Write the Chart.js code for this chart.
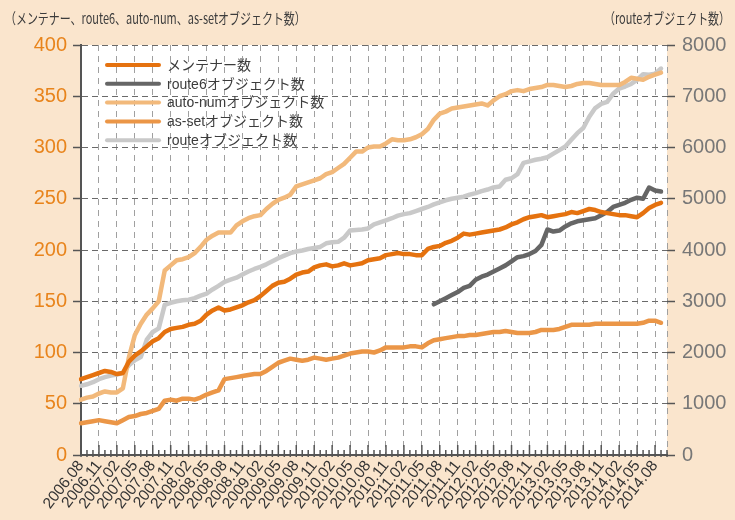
<!DOCTYPE html>
<html>
<head>
<meta charset="utf-8">
<script src="https://cdn.jsdelivr.net/npm/chart.js@4"></script>
<style>
  html, body { margin: 0; padding: 0; background: #fae5cd; }
  #wrap { width: 735px; height: 520px; }
</style>
</head>
<body>
<div id="wrap"><canvas id="chart" width="735" height="520"></canvas></div>
<script>
const months = [
  '2006.08','2006.09','2006.10','2006.11','2006.12',
  '2007.01','2007.02','2007.03','2007.04','2007.05','2007.06','2007.07','2007.08','2007.09','2007.10','2007.11','2007.12',
  '2008.01','2008.02','2008.03','2008.04','2008.05','2008.06','2008.07','2008.08','2008.09','2008.10','2008.11','2008.12',
  '2009.01','2009.02','2009.03','2009.04','2009.05','2009.06','2009.07','2009.08','2009.09','2009.10','2009.11','2009.12',
  '2010.01','2010.02','2010.03','2010.04','2010.05','2010.06','2010.07','2010.08','2010.09','2010.10','2010.11','2010.12',
  '2011.01','2011.02','2011.03','2011.04','2011.05','2011.06','2011.07','2011.08','2011.09','2011.10','2011.11','2011.12',
  '2012.01','2012.02','2012.03','2012.04','2012.05','2012.06','2012.07','2012.08','2012.09','2012.10','2012.11','2012.12',
  '2013.01','2013.02','2013.03','2013.04','2013.05','2013.06','2013.07','2013.08','2013.09','2013.10','2013.11','2013.12',
  '2014.01','2014.02','2014.03','2014.04','2014.05','2014.06','2014.07','2014.08','2014.09','2014.10'
];

// left axis series
const maintainers = [
  74,76,78,80,82,81,79,80,91,97,
  101,106,111,114,120,123,124,125,127,128,
  131,137,141,144,141,142,144,146,149,151,
  155,160,165,168,169,172,176,178,179,183,
  185,186,184,185,187,185,186,187,190,191,
  192,195,196,197,196,196,195,195,201,203,
  204,207,209,212,216,215,216,217,218,219,
  220,222,225,227,230,232,233,234,232,233,
  234,235,237,236,238,240,239,237,236,235,
  234,234,233,232,236,241,244,246
];

// route6 starts at 2011.07
const route6 = Array(59).fill(null).concat([
  147,150,153,156,159,163,165,171,174,176,
  179,182,185,189,193,194,196,199,205,220,
  218,219,223,226,228,229,230,231,234,237,
  242,244,246,249,251,250,261,258,257
]);

const autoNum = [
  54,56,57,60,62,61,61,65,95,117,
  128,137,143,150,180,185,190,191,193,197,
  203,210,214,217,217,217,224,228,231,233,
  234,240,245,249,251,254,262,264,266,268,
  270,274,276,280,284,290,296,296,300,301,
  301,304,308,307,307,308,310,313,318,327,
  333,335,338,339,340,341,342,343,341,346,
  350,352,355,356,355,357,358,359,361,361,
  360,359,360,362,363,363,362,361,361,361,
  361,364,368,367,366,369,371,373
];

const asSet = [
  31,32,33,34,33,32,31,34,37,38,
  40,41,43,45,53,54,53,55,55,54,
  56,59,61,63,74,75,76,77,78,79,
  79,82,86,90,92,94,93,92,93,95,
  94,93,94,95,97,99,100,101,101,100,
  102,105,105,105,105,106,106,105,109,112,
  113,114,115,116,116,117,117,118,119,120,
  120,121,120,119,119,119,120,122,122,122,
  123,125,127,127,127,127,128,128,128,128,
  128,128,128,128,129,131,131,129
];

// right axis series
const routeObj = [
  1350,1380,1420,1480,1520,1550,1570,1600,1750,1850,
  1910,2250,2400,2470,2930,2970,3000,3020,3030,3060,
  3110,3150,3230,3300,3380,3420,3460,3520,3580,3630,
  3670,3720,3780,3840,3890,3940,3970,3990,4020,4040,
  4060,4130,4150,4160,4240,4380,4390,4400,4420,4500,
  4540,4580,4620,4670,4700,4720,4760,4800,4840,4890,
  4930,4970,5000,5020,5040,5080,5110,5150,5180,5220,
  5240,5370,5400,5480,5700,5730,5760,5780,5810,5880,
  5950,6020,6150,6280,6380,6600,6770,6850,6890,7050,
  7150,7190,7240,7320,7430,7420,7440,7540
];

const leftTitle = '（メンテナー、route6、auto-num、as-setオブジェクト数）';
const rightTitle = '（routeオブジェクト数）';

const cream = '#fae5cd';

const bgPlugin = {
  id: 'bg',
  beforeDraw(chart) {
    const { ctx, chartArea: a } = chart;
    ctx.save();
    ctx.fillStyle = cream;
    ctx.fillRect(0, 0, chart.width, chart.height);
    ctx.fillStyle = '#ffffff';
    ctx.fillRect(a.left, a.top, a.right - a.left, a.bottom - a.top);
    ctx.restore();
  }
};

// monthly minor ticks on the bottom axis
const monthTicks = {
  id: 'monthTicks',
  afterDatasetsDraw(chart) {
    const { ctx, chartArea: a, scales: { x } } = chart;
    ctx.save();
    ctx.strokeStyle = '#555';
    ctx.lineWidth = 1.5;
    for (let i = 0; i < months.length; i++) {
      const px = x.getPixelForValue(i);
      const len = i % 3 === 0 ? 10 : 5;
      ctx.beginPath();
      ctx.moveTo(px, a.bottom + 2);
      ctx.lineTo(px, a.bottom - len);
      ctx.stroke();
    }
    ctx.restore();
  }
};

const labelsPlugin = {
  id: 'labels',
  afterDraw(chart) {
    const ctx = chart.ctx;
    ctx.save();
    ctx.fillStyle = '#3c3c3c';
    ctx.textBaseline = 'middle';
    ctx.font = '15px "Noto Sans CJK JP"';
    // condensed header text
    ctx.save();
    ctx.translate(5, 18);
    ctx.scale(0.73, 1);
    ctx.fillText(leftTitle, 0, 0);
    ctx.restore();
    ctx.save();
    ctx.translate(730, 18);
    ctx.scale(0.73, 1);
    ctx.textAlign = 'right';
    ctx.fillText(rightTitle, 0, 0);
    ctx.restore();

    // legend inside plot
    chart.data.datasets.forEach((ds, i) => {
      const y = 65 + i * 18.8;
      ctx.strokeStyle = ds.borderColor;
      ctx.lineWidth = 4;
      ctx.lineCap = 'round';
      ctx.beginPath();
      ctx.moveTo(107, y);
      ctx.lineTo(159, y);
      ctx.stroke();
      ctx.fillStyle = '#3c3c3c';
      ctx.font = '14px "Liberation Sans", "Noto Sans CJK JP"';
      ctx.fillText(ds.label, 167, y + 1);
    });
    ctx.restore();
  }
};

const line = (label, data, color, axis) => ({
  label, data, borderColor: color, yAxisID: axis,
  borderWidth: 4.5, pointRadius: 0, tension: 0,
  borderJoinStyle: 'round', borderCapStyle: 'round', spanGaps: false
});

new Chart(document.getElementById('chart'), {
  type: 'line',
  data: {
    labels: months,
    datasets: [
      line('メンテナー数', maintainers, '#e5720f', 'y'),
      line('route6オブジェクト数', route6, '#666666', 'y'),
      line('auto-numオブジェクト数', autoNum, '#f2b97b', 'y'),
      line('as-setオブジェクト数', asSet, '#eb9647', 'y'),
      line('routeオブジェクト数', routeObj, '#c9c9c9', 'y2')
    ]
  },
  options: {
    responsive: false,
    animation: false,
    layout: { padding: { top: 45, left: 0, right: 0, bottom: 0 } },
    plugins: { legend: { display: false }, tooltip: { enabled: false } },
    scales: {
      x: {
        ticks: {
          autoSkip: false, minRotation: 52, maxRotation: 52,
          color: '#333', font: { size: 15.5, family: 'Liberation Sans' }, padding: 2,
          callback(v, i) { return i % 3 === 0 ? this.getLabelForValue(v) : ''; }
        },
        grid: {
          drawTicks: false,
          color: c => ((c.index % 3 === 0 && c.index > 0) || c.index === months.length - 1) ? '#a0a0a0' : 'rgba(0,0,0,0)'
        },
        border: { color: '#555', width: 2, dash: [6, 5] },
        afterFit(s) { s.height = 65; }
      },
      y: {
        position: 'left', min: 0, max: 400,
        ticks: { stepSize: 50, color: '#e8841c', font: { size: 20, family: 'Liberation Sans' }, padding: 6 },
        grid: { color: '#6a6a6a', tickLength: 8, tickColor: '#555', tickWidth: 1.5 },
        border: { color: '#555', width: 2, dash: [6, 4] },
        afterFit(s) { s.width = 81; }
      },
      y2: {
        position: 'right', min: 0, max: 8000,
        ticks: {
          stepSize: 1000, color: '#777', font: { size: 20, family: 'Liberation Sans' }, padding: 7,
          callback: v => String(v)
        },
        grid: { drawOnChartArea: false, tickLength: 8, tickColor: '#555', tickWidth: 1.5 },
        border: { display: false },
        afterFit(s) { s.width = 68; }
      }
    }
  },
  plugins: [bgPlugin, monthTicks, labelsPlugin]
});
</script>
</body>
</html>
